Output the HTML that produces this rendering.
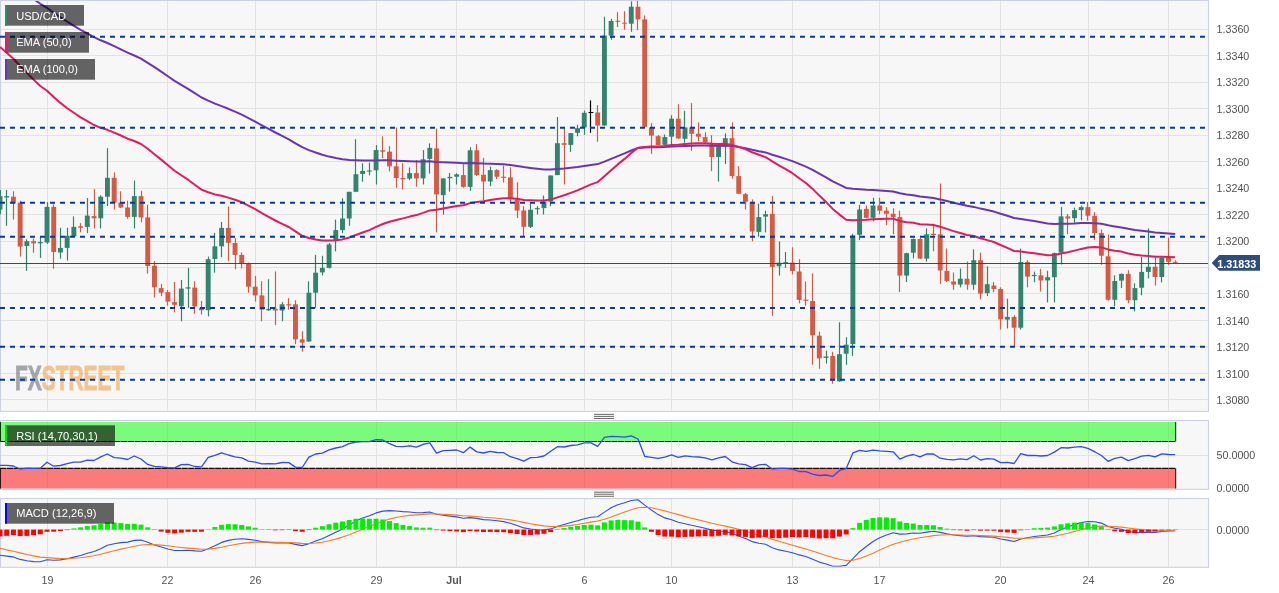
<!DOCTYPE html>
<html><head><meta charset="utf-8"><title>USD/CAD</title>
<style>
html,body{margin:0;padding:0;background:#fff;}
body{width:1279px;height:593px;overflow:hidden;font-family:"Liberation Sans",Arial,sans-serif;}
svg{display:block}
.ax{font-family:"Liberation Sans",Arial,sans-serif;font-size:10.7px;fill:#525252;}
.lb{font-family:"Liberation Sans",Arial,sans-serif;font-size:11.1px;fill:#fff;}
</style></head><body>
<svg width="1279" height="593" viewBox="0 0 1279 593">
<g opacity="0.999">

<rect x="0.5" y="0.5" width="1208.0" height="410.9" fill="#f7f7f7" stroke="#cbd1e5" stroke-width="1.1"/>
<rect x="0.5" y="420.5" width="1208.0" height="68.80000000000001" fill="#f7f7f7" stroke="#cbd1e5" stroke-width="1.1"/>
<rect x="0.5" y="498.5" width="1208.0" height="68.79999999999995" fill="#f7f7f7" stroke="#cbd1e5" stroke-width="1.1"/>
<defs><filter id="n" x="-5%" y="-20%" width="110%" height="140%"><feOffset dx="0" dy="0"/></filter>
<clipPath id="cp0"><rect x="0" y="1.0" width="1208.0" height="409.9"/></clipPath>
<clipPath id="cp1"><rect x="0" y="421.0" width="1208.0" height="67.80000000000001"/></clipPath>
<clipPath id="cp2"><rect x="0" y="499.0" width="1208.0" height="67.79999999999995"/></clipPath>
</defs>
<line x1="47.5" x2="47.5" y1="1.0" y2="410.9" stroke="#e2e2e2" stroke-width="1"/>
<line x1="167.5" x2="167.5" y1="1.0" y2="410.9" stroke="#e2e2e2" stroke-width="1"/>
<line x1="255.5" x2="255.5" y1="1.0" y2="410.9" stroke="#e2e2e2" stroke-width="1"/>
<line x1="376.5" x2="376.5" y1="1.0" y2="410.9" stroke="#e2e2e2" stroke-width="1"/>
<line x1="456.5" x2="456.5" y1="1.0" y2="410.9" stroke="#e2e2e2" stroke-width="1"/>
<line x1="584.5" x2="584.5" y1="1.0" y2="410.9" stroke="#e2e2e2" stroke-width="1"/>
<line x1="671.5" x2="671.5" y1="1.0" y2="410.9" stroke="#e2e2e2" stroke-width="1"/>
<line x1="792.5" x2="792.5" y1="1.0" y2="410.9" stroke="#e2e2e2" stroke-width="1"/>
<line x1="879.5" x2="879.5" y1="1.0" y2="410.9" stroke="#e2e2e2" stroke-width="1"/>
<line x1="1000.5" x2="1000.5" y1="1.0" y2="410.9" stroke="#e2e2e2" stroke-width="1"/>
<line x1="1088.5" x2="1088.5" y1="1.0" y2="410.9" stroke="#e2e2e2" stroke-width="1"/>
<line x1="1168.5" x2="1168.5" y1="1.0" y2="410.9" stroke="#e2e2e2" stroke-width="1"/>
<line x1="47.5" x2="47.5" y1="421.0" y2="488.8" stroke="#e2e2e2" stroke-width="1"/>
<line x1="167.5" x2="167.5" y1="421.0" y2="488.8" stroke="#e2e2e2" stroke-width="1"/>
<line x1="255.5" x2="255.5" y1="421.0" y2="488.8" stroke="#e2e2e2" stroke-width="1"/>
<line x1="376.5" x2="376.5" y1="421.0" y2="488.8" stroke="#e2e2e2" stroke-width="1"/>
<line x1="456.5" x2="456.5" y1="421.0" y2="488.8" stroke="#e2e2e2" stroke-width="1"/>
<line x1="584.5" x2="584.5" y1="421.0" y2="488.8" stroke="#e2e2e2" stroke-width="1"/>
<line x1="671.5" x2="671.5" y1="421.0" y2="488.8" stroke="#e2e2e2" stroke-width="1"/>
<line x1="792.5" x2="792.5" y1="421.0" y2="488.8" stroke="#e2e2e2" stroke-width="1"/>
<line x1="879.5" x2="879.5" y1="421.0" y2="488.8" stroke="#e2e2e2" stroke-width="1"/>
<line x1="1000.5" x2="1000.5" y1="421.0" y2="488.8" stroke="#e2e2e2" stroke-width="1"/>
<line x1="1088.5" x2="1088.5" y1="421.0" y2="488.8" stroke="#e2e2e2" stroke-width="1"/>
<line x1="1168.5" x2="1168.5" y1="421.0" y2="488.8" stroke="#e2e2e2" stroke-width="1"/>
<line x1="47.5" x2="47.5" y1="499.0" y2="566.8" stroke="#e2e2e2" stroke-width="1"/>
<line x1="167.5" x2="167.5" y1="499.0" y2="566.8" stroke="#e2e2e2" stroke-width="1"/>
<line x1="255.5" x2="255.5" y1="499.0" y2="566.8" stroke="#e2e2e2" stroke-width="1"/>
<line x1="376.5" x2="376.5" y1="499.0" y2="566.8" stroke="#e2e2e2" stroke-width="1"/>
<line x1="456.5" x2="456.5" y1="499.0" y2="566.8" stroke="#e2e2e2" stroke-width="1"/>
<line x1="584.5" x2="584.5" y1="499.0" y2="566.8" stroke="#e2e2e2" stroke-width="1"/>
<line x1="671.5" x2="671.5" y1="499.0" y2="566.8" stroke="#e2e2e2" stroke-width="1"/>
<line x1="792.5" x2="792.5" y1="499.0" y2="566.8" stroke="#e2e2e2" stroke-width="1"/>
<line x1="879.5" x2="879.5" y1="499.0" y2="566.8" stroke="#e2e2e2" stroke-width="1"/>
<line x1="1000.5" x2="1000.5" y1="499.0" y2="566.8" stroke="#e2e2e2" stroke-width="1"/>
<line x1="1088.5" x2="1088.5" y1="499.0" y2="566.8" stroke="#e2e2e2" stroke-width="1"/>
<line x1="1168.5" x2="1168.5" y1="499.0" y2="566.8" stroke="#e2e2e2" stroke-width="1"/>
<line x1="1" x2="1208.0" y1="29.5" y2="29.5" stroke="#e2e2e2" stroke-width="1"/>
<line x1="1" x2="1208.0" y1="55.5" y2="55.5" stroke="#e2e2e2" stroke-width="1"/>
<line x1="1" x2="1208.0" y1="82.5" y2="82.5" stroke="#e2e2e2" stroke-width="1"/>
<line x1="1" x2="1208.0" y1="108.5" y2="108.5" stroke="#e2e2e2" stroke-width="1"/>
<line x1="1" x2="1208.0" y1="135.5" y2="135.5" stroke="#e2e2e2" stroke-width="1"/>
<line x1="1" x2="1208.0" y1="161.5" y2="161.5" stroke="#e2e2e2" stroke-width="1"/>
<line x1="1" x2="1208.0" y1="188.5" y2="188.5" stroke="#e2e2e2" stroke-width="1"/>
<line x1="1" x2="1208.0" y1="214.5" y2="214.5" stroke="#e2e2e2" stroke-width="1"/>
<line x1="1" x2="1208.0" y1="241.5" y2="241.5" stroke="#e2e2e2" stroke-width="1"/>
<line x1="1" x2="1208.0" y1="267.5" y2="267.5" stroke="#e2e2e2" stroke-width="1"/>
<line x1="1" x2="1208.0" y1="293.5" y2="293.5" stroke="#e2e2e2" stroke-width="1"/>
<line x1="1" x2="1208.0" y1="320.5" y2="320.5" stroke="#e2e2e2" stroke-width="1"/>
<line x1="1" x2="1208.0" y1="346.5" y2="346.5" stroke="#e2e2e2" stroke-width="1"/>
<line x1="1" x2="1208.0" y1="373.5" y2="373.5" stroke="#e2e2e2" stroke-width="1"/>
<line x1="1" x2="1208.0" y1="399.5" y2="399.5" stroke="#e2e2e2" stroke-width="1"/>
<line x1="1" x2="1208.0" y1="455.5" y2="455.5" stroke="#e2e2e2" stroke-width="1"/>
<line x1="1" x2="1208.0" y1="529.5" y2="529.5" stroke="#e2e2e2" stroke-width="1"/>
<g clip-path="url(#cp0)">
<line x1="0.5" x2="0.5" y1="189.9" y2="214.2" stroke="#32846f" stroke-width="1.2"/>
<rect x="-2.45" y="196.1" width="4.9" height="13.50" fill="#32846f"/>
<line x1="6.5" x2="6.5" y1="189.9" y2="225.8" stroke="#32846f" stroke-width="1.2"/>
<rect x="4.27" y="196.1" width="4.9" height="1.40" fill="#32846f"/>
<line x1="13.5" x2="13.5" y1="191.3" y2="219.6" stroke="#d65944" stroke-width="1.2"/>
<rect x="10.98" y="196.7" width="4.9" height="6.70" fill="#d65944"/>
<line x1="20.5" x2="20.5" y1="200.7" y2="256.6" stroke="#d65944" stroke-width="1.2"/>
<rect x="17.70" y="202.6" width="4.9" height="44.00" fill="#d65944"/>
<line x1="26.5" x2="26.5" y1="239.3" y2="270.9" stroke="#32846f" stroke-width="1.2"/>
<rect x="24.41" y="241.2" width="4.9" height="4.80" fill="#32846f"/>
<line x1="33.5" x2="33.5" y1="238.5" y2="252.8" stroke="#d65944" stroke-width="1.2"/>
<rect x="31.13" y="241.2" width="4.9" height="2.10" fill="#d65944"/>
<line x1="40.5" x2="40.5" y1="237.1" y2="257.9" stroke="#32846f" stroke-width="1.2"/>
<rect x="37.84" y="242.0" width="4.9" height="1.30" fill="#32846f"/>
<line x1="47.5" x2="47.5" y1="202.1" y2="243.9" stroke="#32846f" stroke-width="1.2"/>
<rect x="44.56" y="206.9" width="4.9" height="35.60" fill="#32846f"/>
<line x1="53.5" x2="53.5" y1="204.2" y2="268.7" stroke="#d65944" stroke-width="1.2"/>
<rect x="51.27" y="206.9" width="4.9" height="45.10" fill="#d65944"/>
<line x1="60.5" x2="60.5" y1="227.7" y2="258.7" stroke="#32846f" stroke-width="1.2"/>
<rect x="57.99" y="247.9" width="4.9" height="4.60" fill="#32846f"/>
<line x1="67.5" x2="67.5" y1="227.7" y2="260.6" stroke="#32846f" stroke-width="1.2"/>
<rect x="64.71" y="235.8" width="4.9" height="12.10" fill="#32846f"/>
<line x1="73.5" x2="73.5" y1="216.4" y2="237.1" stroke="#32846f" stroke-width="1.2"/>
<rect x="71.42" y="226.9" width="4.9" height="9.40" fill="#32846f"/>
<line x1="80.5" x2="80.5" y1="223.1" y2="232.3" stroke="#d65944" stroke-width="1.2"/>
<rect x="78.14" y="226.3" width="4.9" height="1.40" fill="#d65944"/>
<line x1="87.5" x2="87.5" y1="198.0" y2="233.1" stroke="#32846f" stroke-width="1.2"/>
<rect x="84.85" y="215.6" width="4.9" height="11.30" fill="#32846f"/>
<line x1="94.5" x2="94.5" y1="189.1" y2="228.5" stroke="#d65944" stroke-width="1.2"/>
<rect x="91.57" y="216.1" width="4.9" height="2.20" fill="#d65944"/>
<line x1="100.5" x2="100.5" y1="195.3" y2="228.5" stroke="#32846f" stroke-width="1.2"/>
<rect x="98.28" y="196.7" width="4.9" height="21.60" fill="#32846f"/>
<line x1="107.5" x2="107.5" y1="148.1" y2="206.1" stroke="#32846f" stroke-width="1.2"/>
<rect x="105.00" y="177.8" width="4.9" height="18.90" fill="#32846f"/>
<line x1="114.5" x2="114.5" y1="172.4" y2="209.6" stroke="#d65944" stroke-width="1.2"/>
<rect x="111.72" y="177.8" width="4.9" height="24.80" fill="#d65944"/>
<line x1="120.5" x2="120.5" y1="191.3" y2="208.0" stroke="#d65944" stroke-width="1.2"/>
<rect x="118.43" y="202.6" width="4.9" height="4.90" fill="#d65944"/>
<line x1="127.5" x2="127.5" y1="200.7" y2="218.8" stroke="#d65944" stroke-width="1.2"/>
<rect x="125.15" y="207.5" width="4.9" height="9.40" fill="#d65944"/>
<line x1="134.5" x2="134.5" y1="180.5" y2="228.5" stroke="#32846f" stroke-width="1.2"/>
<rect x="131.86" y="196.1" width="4.9" height="20.80" fill="#32846f"/>
<line x1="141.5" x2="141.5" y1="190.7" y2="222.3" stroke="#d65944" stroke-width="1.2"/>
<rect x="138.58" y="196.1" width="4.9" height="21.30" fill="#d65944"/>
<line x1="147.5" x2="147.5" y1="204.8" y2="273.6" stroke="#d65944" stroke-width="1.2"/>
<rect x="145.29" y="217.4" width="4.9" height="48.60" fill="#d65944"/>
<line x1="154.5" x2="154.5" y1="261.1" y2="297.5" stroke="#d65944" stroke-width="1.2"/>
<rect x="152.01" y="265.7" width="4.9" height="21.60" fill="#d65944"/>
<line x1="161.5" x2="161.5" y1="284.0" y2="296.2" stroke="#d65944" stroke-width="1.2"/>
<rect x="158.72" y="288.1" width="4.9" height="4.60" fill="#d65944"/>
<line x1="167.5" x2="167.5" y1="290.0" y2="305.6" stroke="#d65944" stroke-width="1.2"/>
<rect x="165.44" y="292.1" width="4.9" height="9.50" fill="#d65944"/>
<line x1="174.5" x2="174.5" y1="281.9" y2="312.4" stroke="#d65944" stroke-width="1.2"/>
<rect x="172.16" y="302.1" width="4.9" height="2.70" fill="#d65944"/>
<line x1="181.5" x2="181.5" y1="280.0" y2="321.3" stroke="#32846f" stroke-width="1.2"/>
<rect x="178.87" y="288.6" width="4.9" height="17.60" fill="#32846f"/>
<line x1="188.5" x2="188.5" y1="267.9" y2="307.8" stroke="#32846f" stroke-width="1.2"/>
<rect x="185.59" y="287.3" width="4.9" height="1.30" fill="#32846f"/>
<line x1="194.5" x2="194.5" y1="281.3" y2="313.7" stroke="#d65944" stroke-width="1.2"/>
<rect x="192.30" y="287.6" width="4.9" height="18.80" fill="#d65944"/>
<line x1="201.5" x2="201.5" y1="301.0" y2="314.5" stroke="#d65944" stroke-width="1.2"/>
<rect x="199.02" y="307.8" width="4.9" height="2.40" fill="#d65944"/>
<line x1="208.5" x2="208.5" y1="256.5" y2="316.4" stroke="#32846f" stroke-width="1.2"/>
<rect x="205.73" y="259.2" width="4.9" height="51.00" fill="#32846f"/>
<line x1="214.5" x2="214.5" y1="232.8" y2="272.7" stroke="#32846f" stroke-width="1.2"/>
<rect x="212.45" y="246.3" width="4.9" height="12.70" fill="#32846f"/>
<line x1="221.5" x2="221.5" y1="222.0" y2="257.1" stroke="#32846f" stroke-width="1.2"/>
<rect x="219.16" y="227.9" width="4.9" height="18.40" fill="#32846f"/>
<line x1="228.5" x2="228.5" y1="206.3" y2="261.1" stroke="#d65944" stroke-width="1.2"/>
<rect x="225.88" y="227.9" width="4.9" height="14.90" fill="#d65944"/>
<line x1="235.5" x2="235.5" y1="238.2" y2="269.2" stroke="#d65944" stroke-width="1.2"/>
<rect x="232.60" y="243.0" width="4.9" height="11.90" fill="#d65944"/>
<line x1="241.5" x2="241.5" y1="252.5" y2="268.4" stroke="#d65944" stroke-width="1.2"/>
<rect x="239.31" y="254.9" width="4.9" height="8.10" fill="#d65944"/>
<line x1="248.5" x2="248.5" y1="262.5" y2="292.7" stroke="#d65944" stroke-width="1.2"/>
<rect x="246.03" y="263.3" width="4.9" height="23.40" fill="#d65944"/>
<line x1="255.5" x2="255.5" y1="275.9" y2="301.6" stroke="#d65944" stroke-width="1.2"/>
<rect x="252.74" y="286.7" width="4.9" height="8.70" fill="#d65944"/>
<line x1="261.5" x2="261.5" y1="281.3" y2="321.3" stroke="#d65944" stroke-width="1.2"/>
<rect x="259.46" y="295.4" width="4.9" height="14.30" fill="#d65944"/>
<line x1="268.5" x2="268.5" y1="279.2" y2="311.0" stroke="#32846f" stroke-width="1.2"/>
<rect x="266.17" y="308.9" width="4.9" height="1.30" fill="#32846f"/>
<line x1="275.5" x2="275.5" y1="271.4" y2="325.1" stroke="#d65944" stroke-width="1.2"/>
<rect x="272.89" y="308.9" width="4.9" height="1.60" fill="#d65944"/>
<line x1="282.5" x2="282.5" y1="302.1" y2="321.3" stroke="#32846f" stroke-width="1.2"/>
<rect x="279.61" y="304.3" width="4.9" height="6.20" fill="#32846f"/>
<line x1="288.5" x2="288.5" y1="298.1" y2="309.7" stroke="#d65944" stroke-width="1.2"/>
<rect x="286.32" y="304.3" width="4.9" height="1.10" fill="#d65944"/>
<line x1="295.5" x2="295.5" y1="300.2" y2="344.2" stroke="#d65944" stroke-width="1.2"/>
<rect x="293.04" y="304.3" width="4.9" height="35.10" fill="#d65944"/>
<line x1="302.5" x2="302.5" y1="331.3" y2="351.5" stroke="#d65944" stroke-width="1.2"/>
<rect x="299.75" y="339.4" width="4.9" height="3.20" fill="#d65944"/>
<line x1="308.5" x2="308.5" y1="281.3" y2="342.1" stroke="#32846f" stroke-width="1.2"/>
<rect x="306.47" y="292.7" width="4.9" height="48.80" fill="#32846f"/>
<line x1="315.5" x2="315.5" y1="254.9" y2="307.8" stroke="#32846f" stroke-width="1.2"/>
<rect x="313.18" y="272.7" width="4.9" height="20.00" fill="#32846f"/>
<line x1="322.5" x2="322.5" y1="255.7" y2="275.4" stroke="#32846f" stroke-width="1.2"/>
<rect x="319.90" y="267.9" width="4.9" height="4.50" fill="#32846f"/>
<line x1="329.5" x2="329.5" y1="243.0" y2="268.4" stroke="#32846f" stroke-width="1.2"/>
<rect x="326.61" y="244.4" width="4.9" height="23.50" fill="#32846f"/>
<line x1="335.5" x2="335.5" y1="219.6" y2="251.4" stroke="#32846f" stroke-width="1.2"/>
<rect x="333.33" y="230.1" width="4.9" height="10.30" fill="#32846f"/>
<line x1="342.5" x2="342.5" y1="198.3" y2="233.2" stroke="#32846f" stroke-width="1.2"/>
<rect x="340.05" y="218.5" width="4.9" height="11.60" fill="#32846f"/>
<line x1="349.5" x2="349.5" y1="191.8" y2="225.8" stroke="#32846f" stroke-width="1.2"/>
<rect x="346.76" y="191.8" width="4.9" height="26.70" fill="#32846f"/>
<line x1="355.5" x2="355.5" y1="139.2" y2="192.2" stroke="#32846f" stroke-width="1.2"/>
<rect x="353.48" y="174.2" width="4.9" height="17.60" fill="#32846f"/>
<line x1="362.5" x2="362.5" y1="163.3" y2="181.7" stroke="#32846f" stroke-width="1.2"/>
<rect x="360.19" y="170.9" width="4.9" height="3.10" fill="#32846f"/>
<line x1="369.5" x2="369.5" y1="162.6" y2="175.3" stroke="#32846f" stroke-width="1.2"/>
<rect x="366.91" y="170.5" width="4.9" height="1.10" fill="#32846f"/>
<line x1="376.5" x2="376.5" y1="145.1" y2="184.5" stroke="#32846f" stroke-width="1.2"/>
<rect x="373.62" y="150.1" width="4.9" height="20.20" fill="#32846f"/>
<line x1="382.5" x2="382.5" y1="136.3" y2="158.2" stroke="#d65944" stroke-width="1.2"/>
<rect x="380.34" y="150.3" width="4.9" height="1.40" fill="#d65944"/>
<line x1="389.5" x2="389.5" y1="146.2" y2="171.4" stroke="#d65944" stroke-width="1.2"/>
<rect x="387.05" y="151.7" width="4.9" height="14.60" fill="#d65944"/>
<line x1="396.5" x2="396.5" y1="127.5" y2="187.8" stroke="#d65944" stroke-width="1.2"/>
<rect x="393.77" y="166.3" width="4.9" height="11.70" fill="#d65944"/>
<line x1="402.5" x2="402.5" y1="163.3" y2="189.4" stroke="#d65944" stroke-width="1.2"/>
<rect x="400.49" y="178.0" width="4.9" height="1.30" fill="#d65944"/>
<line x1="409.5" x2="409.5" y1="167.4" y2="180.2" stroke="#32846f" stroke-width="1.2"/>
<rect x="407.20" y="173.1" width="4.9" height="5.50" fill="#32846f"/>
<line x1="416.5" x2="416.5" y1="160.0" y2="186.7" stroke="#d65944" stroke-width="1.2"/>
<rect x="413.92" y="173.1" width="4.9" height="5.30" fill="#d65944"/>
<line x1="423.5" x2="423.5" y1="150.1" y2="184.5" stroke="#32846f" stroke-width="1.2"/>
<rect x="420.63" y="159.3" width="4.9" height="19.10" fill="#32846f"/>
<line x1="429.5" x2="429.5" y1="143.3" y2="173.6" stroke="#32846f" stroke-width="1.2"/>
<rect x="427.35" y="147.9" width="4.9" height="11.00" fill="#32846f"/>
<line x1="436.5" x2="436.5" y1="128.6" y2="232.3" stroke="#d65944" stroke-width="1.2"/>
<rect x="434.06" y="148.4" width="4.9" height="46.00" fill="#d65944"/>
<line x1="443.5" x2="443.5" y1="178.4" y2="214.6" stroke="#32846f" stroke-width="1.2"/>
<rect x="440.78" y="178.4" width="4.9" height="16.70" fill="#32846f"/>
<line x1="449.5" x2="449.5" y1="173.1" y2="191.6" stroke="#32846f" stroke-width="1.2"/>
<rect x="447.50" y="176.9" width="4.9" height="1.30" fill="#32846f"/>
<line x1="456.5" x2="456.5" y1="173.2" y2="184.5" stroke="#32846f" stroke-width="1.2"/>
<rect x="454.21" y="174.4" width="4.9" height="2.30" fill="#32846f"/>
<line x1="463.5" x2="463.5" y1="164.2" y2="187.8" stroke="#d65944" stroke-width="1.2"/>
<rect x="460.93" y="175.1" width="4.9" height="11.80" fill="#d65944"/>
<line x1="470.5" x2="470.5" y1="147.2" y2="190.9" stroke="#32846f" stroke-width="1.2"/>
<rect x="467.64" y="150.3" width="4.9" height="36.60" fill="#32846f"/>
<line x1="476.5" x2="476.5" y1="144.1" y2="176.0" stroke="#d65944" stroke-width="1.2"/>
<rect x="474.36" y="150.3" width="4.9" height="24.80" fill="#d65944"/>
<line x1="483.5" x2="483.5" y1="157.8" y2="200.3" stroke="#d65944" stroke-width="1.2"/>
<rect x="481.07" y="174.8" width="4.9" height="6.70" fill="#d65944"/>
<line x1="490.5" x2="490.5" y1="166.6" y2="186.2" stroke="#32846f" stroke-width="1.2"/>
<rect x="487.79" y="170.1" width="4.9" height="11.40" fill="#32846f"/>
<line x1="496.5" x2="496.5" y1="169.2" y2="179.1" stroke="#d65944" stroke-width="1.2"/>
<rect x="494.50" y="170.1" width="4.9" height="6.60" fill="#d65944"/>
<line x1="503.5" x2="503.5" y1="165.6" y2="182.6" stroke="#d65944" stroke-width="1.2"/>
<rect x="501.22" y="176.7" width="4.9" height="1.20" fill="#d65944"/>
<line x1="510.5" x2="510.5" y1="167.3" y2="202.7" stroke="#d65944" stroke-width="1.2"/>
<rect x="507.94" y="177.4" width="4.9" height="21.80" fill="#d65944"/>
<line x1="517.5" x2="517.5" y1="182.2" y2="218.0" stroke="#d65944" stroke-width="1.2"/>
<rect x="514.65" y="199.2" width="4.9" height="11.30" fill="#d65944"/>
<line x1="523.5" x2="523.5" y1="206.2" y2="236.5" stroke="#d65944" stroke-width="1.2"/>
<rect x="521.37" y="210.5" width="4.9" height="16.30" fill="#d65944"/>
<line x1="530.5" x2="530.5" y1="203.9" y2="228.0" stroke="#32846f" stroke-width="1.2"/>
<rect x="528.08" y="209.8" width="4.9" height="17.00" fill="#32846f"/>
<line x1="537.5" x2="537.5" y1="206.2" y2="214.5" stroke="#32846f" stroke-width="1.2"/>
<rect x="534.80" y="208.1" width="4.9" height="1.20" fill="#32846f"/>
<line x1="543.5" x2="543.5" y1="195.6" y2="214.5" stroke="#32846f" stroke-width="1.2"/>
<rect x="541.51" y="201.5" width="4.9" height="6.60" fill="#32846f"/>
<line x1="550.5" x2="550.5" y1="175.5" y2="206.2" stroke="#32846f" stroke-width="1.2"/>
<rect x="548.23" y="175.5" width="4.9" height="26.00" fill="#32846f"/>
<line x1="557.5" x2="557.5" y1="117.0" y2="175.1" stroke="#32846f" stroke-width="1.2"/>
<rect x="554.94" y="143.2" width="4.9" height="31.90" fill="#32846f"/>
<line x1="564.5" x2="564.5" y1="127.9" y2="184.5" stroke="#d65944" stroke-width="1.2"/>
<rect x="561.66" y="143.2" width="4.9" height="1.70" fill="#d65944"/>
<line x1="570.5" x2="570.5" y1="133.1" y2="151.9" stroke="#32846f" stroke-width="1.2"/>
<rect x="568.38" y="133.1" width="4.9" height="11.80" fill="#32846f"/>
<line x1="577.5" x2="577.5" y1="124.7" y2="136.3" stroke="#32846f" stroke-width="1.2"/>
<rect x="575.09" y="128.2" width="4.9" height="4.60" fill="#32846f"/>
<line x1="584.5" x2="584.5" y1="110.6" y2="134.9" stroke="#32846f" stroke-width="1.2"/>
<rect x="581.81" y="112.8" width="4.9" height="14.60" fill="#32846f"/>
<line x1="590.5" x2="590.5" y1="100.4" y2="132.8" stroke="#000" stroke-width="1.2"/>
<rect x="588.52" y="112.05" width="4.9" height="1.00" fill="#000"/>
<line x1="597.5" x2="597.5" y1="105.2" y2="141.7" stroke="#d65944" stroke-width="1.2"/>
<rect x="595.24" y="112.5" width="4.9" height="13.00" fill="#d65944"/>
<line x1="604.5" x2="604.5" y1="16.7" y2="125.5" stroke="#32846f" stroke-width="1.2"/>
<rect x="601.95" y="35.6" width="4.9" height="89.90" fill="#32846f"/>
<line x1="611.5" x2="611.5" y1="18.9" y2="39.7" stroke="#32846f" stroke-width="1.2"/>
<rect x="608.67" y="21.0" width="4.9" height="14.60" fill="#32846f"/>
<line x1="617.5" x2="617.5" y1="12.1" y2="27.0" stroke="#d65944" stroke-width="1.2"/>
<rect x="615.39" y="20.8" width="4.9" height="1.10" fill="#d65944"/>
<line x1="624.5" x2="624.5" y1="11.3" y2="29.7" stroke="#d65944" stroke-width="1.2"/>
<rect x="622.10" y="22.7" width="4.9" height="1.00" fill="#d65944"/>
<line x1="631.5" x2="631.5" y1="1.3" y2="31.8" stroke="#32846f" stroke-width="1.2"/>
<rect x="628.82" y="6.7" width="4.9" height="17.00" fill="#32846f"/>
<line x1="637.5" x2="637.5" y1="0.0" y2="30.2" stroke="#d65944" stroke-width="1.2"/>
<rect x="635.53" y="6.7" width="4.9" height="12.70" fill="#d65944"/>
<line x1="644.5" x2="644.5" y1="15.4" y2="126.8" stroke="#d65944" stroke-width="1.2"/>
<rect x="642.25" y="19.4" width="4.9" height="107.40" fill="#d65944"/>
<line x1="651.5" x2="651.5" y1="123.1" y2="153.8" stroke="#d65944" stroke-width="1.2"/>
<rect x="648.96" y="127.4" width="4.9" height="8.20" fill="#d65944"/>
<line x1="658.5" x2="658.5" y1="135.1" y2="145.4" stroke="#d65944" stroke-width="1.2"/>
<rect x="655.68" y="136.2" width="4.9" height="8.80" fill="#d65944"/>
<line x1="664.5" x2="664.5" y1="134.5" y2="145.4" stroke="#32846f" stroke-width="1.2"/>
<rect x="662.39" y="137.1" width="4.9" height="7.70" fill="#32846f"/>
<line x1="671.5" x2="671.5" y1="115.2" y2="144.3" stroke="#32846f" stroke-width="1.2"/>
<rect x="669.11" y="118.7" width="4.9" height="18.00" fill="#32846f"/>
<line x1="678.5" x2="678.5" y1="104.2" y2="138.8" stroke="#d65944" stroke-width="1.2"/>
<rect x="675.83" y="118.7" width="4.9" height="19.70" fill="#d65944"/>
<line x1="684.5" x2="684.5" y1="110.8" y2="142.8" stroke="#32846f" stroke-width="1.2"/>
<rect x="682.54" y="127.4" width="4.9" height="11.40" fill="#32846f"/>
<line x1="691.5" x2="691.5" y1="103.1" y2="150.9" stroke="#d65944" stroke-width="1.2"/>
<rect x="689.26" y="127.4" width="4.9" height="6.40" fill="#d65944"/>
<line x1="698.5" x2="698.5" y1="122.4" y2="141.0" stroke="#d65944" stroke-width="1.2"/>
<rect x="695.97" y="133.8" width="4.9" height="2.90" fill="#d65944"/>
<line x1="705.5" x2="705.5" y1="132.3" y2="142.8" stroke="#d65944" stroke-width="1.2"/>
<rect x="702.69" y="137.1" width="4.9" height="5.00" fill="#d65944"/>
<line x1="711.5" x2="711.5" y1="135.1" y2="171.1" stroke="#d65944" stroke-width="1.2"/>
<rect x="709.40" y="142.8" width="4.9" height="14.20" fill="#d65944"/>
<line x1="718.5" x2="718.5" y1="145.4" y2="181.6" stroke="#32846f" stroke-width="1.2"/>
<rect x="716.12" y="146.1" width="4.9" height="10.90" fill="#32846f"/>
<line x1="725.5" x2="725.5" y1="133.4" y2="164.1" stroke="#32846f" stroke-width="1.2"/>
<rect x="722.83" y="138.2" width="4.9" height="8.30" fill="#32846f"/>
<line x1="732.5" x2="732.5" y1="122.4" y2="178.7" stroke="#d65944" stroke-width="1.2"/>
<rect x="729.55" y="138.2" width="4.9" height="37.90" fill="#d65944"/>
<line x1="738.5" x2="738.5" y1="166.2" y2="194.1" stroke="#d65944" stroke-width="1.2"/>
<rect x="736.27" y="176.1" width="4.9" height="17.60" fill="#d65944"/>
<line x1="745.5" x2="745.5" y1="193.0" y2="209.5" stroke="#d65944" stroke-width="1.2"/>
<rect x="742.98" y="194.2" width="4.9" height="7.50" fill="#d65944"/>
<line x1="752.5" x2="752.5" y1="199.4" y2="241.4" stroke="#d65944" stroke-width="1.2"/>
<rect x="749.70" y="202.4" width="4.9" height="29.10" fill="#d65944"/>
<line x1="758.5" x2="758.5" y1="203.6" y2="236.7" stroke="#32846f" stroke-width="1.2"/>
<rect x="756.41" y="217.1" width="4.9" height="14.80" fill="#32846f"/>
<line x1="765.5" x2="765.5" y1="210.7" y2="232.4" stroke="#32846f" stroke-width="1.2"/>
<rect x="763.13" y="214.2" width="4.9" height="2.40" fill="#32846f"/>
<line x1="772.5" x2="772.5" y1="196.1" y2="315.8" stroke="#d65944" stroke-width="1.2"/>
<rect x="769.84" y="213.8" width="4.9" height="53.10" fill="#d65944"/>
<line x1="779.5" x2="779.5" y1="241.4" y2="275.6" stroke="#32846f" stroke-width="1.2"/>
<rect x="776.56" y="262.6" width="4.9" height="3.60" fill="#32846f"/>
<line x1="785.5" x2="785.5" y1="252.0" y2="267.8" stroke="#32846f" stroke-width="1.2"/>
<rect x="783.28" y="262.15" width="4.9" height="1.00" fill="#32846f"/>
<line x1="792.5" x2="792.5" y1="247.3" y2="274.4" stroke="#d65944" stroke-width="1.2"/>
<rect x="789.99" y="262.6" width="4.9" height="8.30" fill="#d65944"/>
<line x1="799.5" x2="799.5" y1="259.2" y2="303.4" stroke="#d65944" stroke-width="1.2"/>
<rect x="796.71" y="271.5" width="4.9" height="28.40" fill="#d65944"/>
<line x1="805.5" x2="805.5" y1="281.4" y2="305.8" stroke="#d65944" stroke-width="1.2"/>
<rect x="803.42" y="299.6" width="4.9" height="1.20" fill="#d65944"/>
<line x1="812.5" x2="812.5" y1="273.4" y2="364.8" stroke="#d65944" stroke-width="1.2"/>
<rect x="810.14" y="301.0" width="4.9" height="34.30" fill="#d65944"/>
<line x1="819.5" x2="819.5" y1="331.7" y2="368.8" stroke="#d65944" stroke-width="1.2"/>
<rect x="816.85" y="335.7" width="4.9" height="22.70" fill="#d65944"/>
<line x1="826.5" x2="826.5" y1="350.6" y2="363.6" stroke="#32846f" stroke-width="1.2"/>
<rect x="823.57" y="356.5" width="4.9" height="1.40" fill="#32846f"/>
<line x1="832.5" x2="832.5" y1="351.8" y2="383.7" stroke="#d65944" stroke-width="1.2"/>
<rect x="830.28" y="356.0" width="4.9" height="24.80" fill="#d65944"/>
<line x1="839.5" x2="839.5" y1="322.3" y2="381.8" stroke="#32846f" stroke-width="1.2"/>
<rect x="837.00" y="354.2" width="4.9" height="27.10" fill="#32846f"/>
<line x1="846.5" x2="846.5" y1="337.2" y2="364.8" stroke="#32846f" stroke-width="1.2"/>
<rect x="843.72" y="344.7" width="4.9" height="9.00" fill="#32846f"/>
<line x1="852.5" x2="852.5" y1="233.8" y2="355.9" stroke="#32846f" stroke-width="1.2"/>
<rect x="850.43" y="235.5" width="4.9" height="108.60" fill="#32846f"/>
<line x1="859.5" x2="859.5" y1="204.8" y2="240.2" stroke="#32846f" stroke-width="1.2"/>
<rect x="857.15" y="209.5" width="4.9" height="25.30" fill="#32846f"/>
<line x1="866.5" x2="866.5" y1="205.5" y2="218.2" stroke="#d65944" stroke-width="1.2"/>
<rect x="863.86" y="208.8" width="4.9" height="9.00" fill="#d65944"/>
<line x1="873.5" x2="873.5" y1="197.7" y2="221.3" stroke="#32846f" stroke-width="1.2"/>
<rect x="870.58" y="205.5" width="4.9" height="12.30" fill="#32846f"/>
<line x1="879.5" x2="879.5" y1="197.7" y2="214.2" stroke="#d65944" stroke-width="1.2"/>
<rect x="877.29" y="205.5" width="4.9" height="5.20" fill="#d65944"/>
<line x1="886.5" x2="886.5" y1="207.2" y2="225.3" stroke="#d65944" stroke-width="1.2"/>
<rect x="884.01" y="210.7" width="4.9" height="3.10" fill="#d65944"/>
<line x1="893.5" x2="893.5" y1="208.3" y2="234.3" stroke="#d65944" stroke-width="1.2"/>
<rect x="890.72" y="213.8" width="4.9" height="3.30" fill="#d65944"/>
<line x1="899.5" x2="899.5" y1="210.7" y2="292.1" stroke="#d65944" stroke-width="1.2"/>
<rect x="897.44" y="217.1" width="4.9" height="58.50" fill="#d65944"/>
<line x1="906.5" x2="906.5" y1="252.7" y2="282.0" stroke="#32846f" stroke-width="1.2"/>
<rect x="904.16" y="253.2" width="4.9" height="22.40" fill="#32846f"/>
<line x1="913.5" x2="913.5" y1="238.5" y2="258.4" stroke="#32846f" stroke-width="1.2"/>
<rect x="910.87" y="239.0" width="4.9" height="13.70" fill="#32846f"/>
<line x1="920.5" x2="920.5" y1="237.8" y2="259.1" stroke="#d65944" stroke-width="1.2"/>
<rect x="917.59" y="239.0" width="4.9" height="19.60" fill="#d65944"/>
<line x1="926.5" x2="926.5" y1="228.4" y2="261.5" stroke="#32846f" stroke-width="1.2"/>
<rect x="924.30" y="234.3" width="4.9" height="24.30" fill="#32846f"/>
<line x1="933.5" x2="933.5" y1="223.7" y2="251.3" stroke="#d65944" stroke-width="1.2"/>
<rect x="931.02" y="233.8" width="4.9" height="1.20" fill="#d65944"/>
<line x1="940.5" x2="940.5" y1="183.5" y2="283.9" stroke="#d65944" stroke-width="1.2"/>
<rect x="937.73" y="234.3" width="4.9" height="36.10" fill="#d65944"/>
<line x1="946.5" x2="946.5" y1="248.5" y2="282.0" stroke="#d65944" stroke-width="1.2"/>
<rect x="944.45" y="270.9" width="4.9" height="10.10" fill="#d65944"/>
<line x1="953.5" x2="953.5" y1="272.5" y2="289.8" stroke="#d65944" stroke-width="1.2"/>
<rect x="951.17" y="281.5" width="4.9" height="3.10" fill="#d65944"/>
<line x1="960.5" x2="960.5" y1="268.5" y2="287.4" stroke="#32846f" stroke-width="1.2"/>
<rect x="957.88" y="278.7" width="4.9" height="5.90" fill="#32846f"/>
<line x1="967.5" x2="967.5" y1="261.5" y2="289.8" stroke="#d65944" stroke-width="1.2"/>
<rect x="964.60" y="278.7" width="4.9" height="5.90" fill="#d65944"/>
<line x1="973.5" x2="973.5" y1="249.3" y2="289.8" stroke="#32846f" stroke-width="1.2"/>
<rect x="971.31" y="260.2" width="4.9" height="24.50" fill="#32846f"/>
<line x1="980.5" x2="980.5" y1="252.6" y2="299.4" stroke="#d65944" stroke-width="1.2"/>
<rect x="978.03" y="260.2" width="4.9" height="33.40" fill="#d65944"/>
<line x1="987.5" x2="987.5" y1="266.3" y2="296.1" stroke="#32846f" stroke-width="1.2"/>
<rect x="984.74" y="284.2" width="4.9" height="8.90" fill="#32846f"/>
<line x1="993.5" x2="993.5" y1="282.2" y2="292.3" stroke="#d65944" stroke-width="1.2"/>
<rect x="991.46" y="285.5" width="4.9" height="3.50" fill="#d65944"/>
<line x1="1000.5" x2="1000.5" y1="287.3" y2="329.5" stroke="#d65944" stroke-width="1.2"/>
<rect x="998.17" y="289.0" width="4.9" height="30.40" fill="#d65944"/>
<line x1="1007.5" x2="1007.5" y1="298.7" y2="328.5" stroke="#32846f" stroke-width="1.2"/>
<rect x="1004.89" y="316.9" width="4.9" height="2.70" fill="#32846f"/>
<line x1="1014.5" x2="1014.5" y1="315.1" y2="346.2" stroke="#d65944" stroke-width="1.2"/>
<rect x="1011.61" y="316.9" width="4.9" height="10.80" fill="#d65944"/>
<line x1="1020.5" x2="1020.5" y1="248.6" y2="329.5" stroke="#32846f" stroke-width="1.2"/>
<rect x="1018.32" y="262.0" width="4.9" height="65.70" fill="#32846f"/>
<line x1="1027.5" x2="1027.5" y1="260.2" y2="287.3" stroke="#d65944" stroke-width="1.2"/>
<rect x="1025.04" y="262.0" width="4.9" height="14.60" fill="#d65944"/>
<line x1="1034.5" x2="1034.5" y1="271.6" y2="282.2" stroke="#32846f" stroke-width="1.2"/>
<rect x="1031.75" y="274.9" width="4.9" height="1.20" fill="#32846f"/>
<line x1="1040.5" x2="1040.5" y1="268.8" y2="291.6" stroke="#d65944" stroke-width="1.2"/>
<rect x="1038.47" y="275.4" width="4.9" height="5.00" fill="#d65944"/>
<line x1="1047.5" x2="1047.5" y1="270.8" y2="302.4" stroke="#32846f" stroke-width="1.2"/>
<rect x="1045.18" y="277.2" width="4.9" height="3.20" fill="#32846f"/>
<line x1="1054.5" x2="1054.5" y1="252.6" y2="302.4" stroke="#32846f" stroke-width="1.2"/>
<rect x="1051.90" y="253.1" width="4.9" height="24.10" fill="#32846f"/>
<line x1="1061.5" x2="1061.5" y1="206.8" y2="264.5" stroke="#32846f" stroke-width="1.2"/>
<rect x="1058.61" y="216.4" width="4.9" height="36.20" fill="#32846f"/>
<line x1="1067.5" x2="1067.5" y1="213.9" y2="234.1" stroke="#d65944" stroke-width="1.2"/>
<rect x="1065.33" y="216.4" width="4.9" height="2.10" fill="#d65944"/>
<line x1="1074.5" x2="1074.5" y1="207.6" y2="222.8" stroke="#32846f" stroke-width="1.2"/>
<rect x="1072.05" y="210.1" width="4.9" height="8.10" fill="#32846f"/>
<line x1="1081.5" x2="1081.5" y1="205.6" y2="220.2" stroke="#32846f" stroke-width="1.2"/>
<rect x="1078.76" y="207.1" width="4.9" height="3.00" fill="#32846f"/>
<line x1="1087.5" x2="1087.5" y1="202.0" y2="220.7" stroke="#d65944" stroke-width="1.2"/>
<rect x="1085.48" y="207.1" width="4.9" height="8.60" fill="#d65944"/>
<line x1="1094.5" x2="1094.5" y1="212.2" y2="239.9" stroke="#d65944" stroke-width="1.2"/>
<rect x="1092.19" y="215.8" width="4.9" height="17.20" fill="#d65944"/>
<line x1="1101.5" x2="1101.5" y1="229.4" y2="264.8" stroke="#d65944" stroke-width="1.2"/>
<rect x="1098.91" y="233.0" width="4.9" height="22.70" fill="#d65944"/>
<line x1="1108.5" x2="1108.5" y1="234.5" y2="300.6" stroke="#d65944" stroke-width="1.2"/>
<rect x="1105.62" y="256.3" width="4.9" height="43.50" fill="#d65944"/>
<line x1="1114.5" x2="1114.5" y1="275.3" y2="306.3" stroke="#32846f" stroke-width="1.2"/>
<rect x="1112.34" y="281.0" width="4.9" height="18.80" fill="#32846f"/>
<line x1="1121.5" x2="1121.5" y1="273.5" y2="288.1" stroke="#32846f" stroke-width="1.2"/>
<rect x="1119.06" y="273.9" width="4.9" height="6.70" fill="#32846f"/>
<line x1="1128.5" x2="1128.5" y1="270.3" y2="303.3" stroke="#d65944" stroke-width="1.2"/>
<rect x="1125.77" y="273.9" width="4.9" height="26.30" fill="#d65944"/>
<line x1="1134.5" x2="1134.5" y1="283.4" y2="311.4" stroke="#32846f" stroke-width="1.2"/>
<rect x="1132.49" y="288.1" width="4.9" height="12.10" fill="#32846f"/>
<line x1="1141.5" x2="1141.5" y1="256.7" y2="295.2" stroke="#32846f" stroke-width="1.2"/>
<rect x="1139.20" y="271.9" width="4.9" height="15.80" fill="#32846f"/>
<line x1="1148.5" x2="1148.5" y1="228.4" y2="278.4" stroke="#32846f" stroke-width="1.2"/>
<rect x="1145.92" y="266.8" width="4.9" height="5.10" fill="#32846f"/>
<line x1="1155.5" x2="1155.5" y1="255.7" y2="285.5" stroke="#d65944" stroke-width="1.2"/>
<rect x="1152.63" y="266.8" width="4.9" height="10.20" fill="#d65944"/>
<line x1="1161.5" x2="1161.5" y1="257.7" y2="282.4" stroke="#32846f" stroke-width="1.2"/>
<rect x="1159.35" y="257.7" width="4.9" height="19.30" fill="#32846f"/>
<line x1="1168.5" x2="1168.5" y1="237.5" y2="264.8" stroke="#d65944" stroke-width="1.2"/>
<rect x="1166.06" y="257.7" width="4.9" height="4.10" fill="#d65944"/>
<line x1="1175.5" x2="1175.5" y1="260.2" y2="263.2" stroke="#d65944" stroke-width="1.2"/>
<rect x="1172.78" y="261.8" width="4.9" height="1.00" fill="#d65944"/>
<g opacity="0.62" filter="url(#n)"><text x="14.9" y="390.2" font-family="Liberation Sans,Arial,sans-serif" font-weight="bold" font-size="35.6" stroke-width="1.1" stroke-linejoin="miter" transform="translate(14.9 0) scale(0.589 1) translate(-14.9 0)"><tspan fill="#73757f" stroke="#73757f">FX</tspan><tspan fill="#efa851" stroke="#efa851">STREET</tspan></text></g>
<line x1="0" x2="1208.5" y1="263.5" y2="263.5" stroke="#2d4a78" stroke-width="1.15"/>
<path d="M0.0,-24.9 L6.7,-20.5 L13.4,-16.1 L20.1,-10.9 L26.9,-5.9 L33.6,-1.0 L40.3,3.8 L47.0,7.9 L53.7,12.7 L60.4,17.4 L67.2,21.7 L73.9,25.8 L80.6,29.8 L87.3,33.4 L94.0,37.1 L100.7,40.3 L107.4,43.0 L114.2,46.1 L120.9,49.3 L127.6,52.6 L134.3,55.5 L141.0,58.7 L147.7,62.8 L154.5,67.2 L161.2,71.7 L167.9,76.3 L174.6,80.8 L181.3,84.9 L188.0,88.9 L194.8,93.2 L201.5,97.5 L208.2,100.7 L214.9,103.6 L221.6,106.1 L228.3,108.8 L235.0,111.7 L241.8,114.7 L248.5,118.1 L255.2,121.6 L261.9,125.3 L268.6,128.9 L275.3,132.5 L282.1,135.9 L288.8,139.3 L295.5,143.3 L302.2,147.2 L308.9,150.1 L315.6,152.5 L322.3,154.8 L329.1,156.6 L335.8,158.0 L342.5,159.2 L349.2,159.9 L355.9,160.2 L362.6,160.4 L369.4,160.6 L376.1,160.4 L382.8,160.2 L389.5,160.3 L396.2,160.7 L402.9,161.0 L409.7,161.3 L416.4,161.6 L423.1,161.6 L429.8,161.3 L436.5,161.9 L443.2,162.3 L449.9,162.6 L456.7,162.8 L463.4,163.3 L470.1,163.0 L476.8,163.3 L483.5,163.6 L490.2,163.7 L497.0,164.0 L503.7,164.3 L510.4,165.0 L517.1,165.9 L523.8,167.1 L530.5,167.9 L537.2,168.7 L544.0,169.4 L550.7,169.5 L557.4,169.0 L564.1,168.5 L570.8,167.8 L577.5,167.0 L584.3,165.9 L591.0,164.9 L597.7,164.1 L604.4,161.6 L611.1,158.8 L617.8,156.1 L624.6,153.4 L631.3,150.5 L638.0,147.9 L644.7,147.5 L651.4,147.3 L658.1,147.2 L664.8,147.0 L671.6,146.5 L678.3,146.3 L685.0,145.9 L691.7,145.7 L698.4,145.5 L705.1,145.5 L711.9,145.7 L718.6,145.7 L725.3,145.5 L732.0,146.1 L738.7,147.1 L745.4,148.2 L752.1,149.8 L758.9,151.2 L765.6,152.4 L772.3,154.7 L779.0,156.8 L785.7,158.9 L792.4,161.1 L799.2,163.9 L805.9,166.6 L812.6,169.9 L819.3,173.6 L826.0,177.3 L832.7,181.3 L839.5,184.7 L846.2,187.9 L852.9,188.8 L859.6,189.2 L866.3,189.8 L873.0,190.1 L879.7,190.5 L886.5,191.0 L893.2,191.5 L899.9,193.2 L906.6,194.4 L913.3,195.2 L920.0,196.5 L926.8,197.2 L933.5,198.0 L940.2,199.4 L946.9,201.0 L953.6,202.7 L960.3,204.2 L967.0,205.8 L973.8,206.9 L980.5,208.6 L987.2,210.1 L993.9,211.6 L1000.6,213.8 L1007.3,215.8 L1014.1,218.0 L1020.8,218.9 L1027.5,220.1 L1034.2,221.1 L1040.9,222.3 L1047.6,223.4 L1054.3,224.0 L1061.1,223.8 L1067.8,223.7 L1074.5,223.5 L1081.2,223.1 L1087.9,223.0 L1094.6,223.2 L1101.4,223.8 L1108.1,225.3 L1114.8,226.4 L1121.5,227.4 L1128.2,228.8 L1134.9,230.0 L1141.7,230.8 L1148.4,231.5 L1155.1,232.4 L1161.8,232.9 L1168.5,233.5 L1175.2,234.1" fill="none" stroke="#6a35b5" stroke-width="2" stroke-linejoin="round"/>
<path d="M0.0,46.9 L6.7,52.8 L13.4,58.7 L20.1,66.0 L26.9,72.9 L33.6,79.6 L40.3,86.0 L47.0,90.7 L53.7,97.0 L60.4,102.9 L67.2,108.2 L73.9,112.8 L80.6,117.3 L87.3,121.2 L94.0,125.0 L100.7,127.8 L107.4,129.8 L114.2,132.6 L120.9,135.5 L127.6,138.7 L134.3,141.0 L141.0,144.0 L147.7,148.8 L154.5,154.2 L161.2,159.6 L167.9,165.2 L174.6,170.7 L181.3,175.3 L188.0,179.7 L194.8,184.7 L201.5,189.6 L208.2,192.3 L214.9,194.4 L221.6,195.7 L228.3,197.6 L235.0,199.8 L241.8,202.3 L248.5,205.6 L255.2,209.1 L261.9,213.1 L268.6,216.8 L275.3,220.5 L282.1,223.8 L288.8,227.0 L295.5,231.4 L302.2,235.8 L308.9,238.0 L315.6,239.4 L322.3,240.5 L329.1,240.6 L335.8,240.2 L342.5,239.4 L349.2,237.5 L355.9,235.0 L362.6,232.5 L369.4,230.1 L376.1,226.9 L382.8,224.0 L389.5,221.7 L396.2,220.0 L402.9,218.4 L409.7,216.6 L416.4,215.1 L423.1,212.9 L429.8,210.4 L436.5,209.8 L443.2,208.5 L449.9,207.3 L456.7,206.0 L463.4,205.3 L470.1,203.1 L476.8,202.0 L483.5,201.2 L490.2,200.0 L497.0,199.1 L503.7,198.2 L510.4,198.3 L517.1,198.8 L523.8,199.9 L530.5,200.2 L537.2,200.6 L544.0,200.6 L550.7,199.6 L557.4,197.4 L564.1,195.3 L570.8,192.9 L577.5,190.4 L584.3,187.3 L591.0,184.4 L597.7,182.1 L604.4,176.3 L611.1,170.2 L617.8,164.4 L624.6,158.9 L631.3,152.9 L638.0,147.7 L644.7,146.9 L651.4,146.4 L658.1,146.4 L664.8,146.0 L671.6,144.9 L678.3,144.7 L685.0,144.0 L691.7,143.6 L698.4,143.3 L705.1,143.3 L711.9,143.8 L718.6,143.9 L725.3,143.7 L732.0,145.0 L738.7,146.9 L745.4,149.0 L752.1,152.3 L758.9,154.8 L765.6,157.1 L772.3,161.4 L779.0,165.4 L785.7,169.2 L792.4,173.2 L799.2,178.2 L805.9,183.0 L812.6,188.9 L819.3,195.6 L826.0,201.9 L832.7,208.9 L839.5,214.6 L846.2,219.7 L852.9,220.3 L859.6,219.9 L866.3,219.8 L873.0,219.3 L879.7,218.9 L886.5,218.7 L893.2,218.7 L899.9,220.9 L906.6,222.2 L913.3,222.8 L920.0,224.2 L926.8,224.6 L933.5,225.0 L940.2,226.8 L946.9,228.9 L953.6,231.1 L960.3,233.0 L967.0,235.0 L973.8,236.0 L980.5,238.3 L987.2,240.1 L993.9,242.0 L1000.6,245.0 L1007.3,247.8 L1014.1,251.0 L1020.8,251.4 L1027.5,252.4 L1034.2,253.3 L1040.9,254.3 L1047.6,255.2 L1054.3,255.1 L1061.1,253.6 L1067.8,252.2 L1074.5,250.6 L1081.2,248.9 L1087.9,247.6 L1094.6,247.0 L1101.4,247.4 L1108.1,249.4 L1114.8,250.7 L1121.5,251.6 L1128.2,253.5 L1134.9,254.8 L1141.7,255.5 L1148.4,255.9 L1155.1,256.8 L1161.8,256.8 L1168.5,257.0 L1175.2,257.2" fill="none" stroke="#e6195f" stroke-width="2" stroke-linejoin="round"/>
<line x1="0" x2="1210" y1="36.8" y2="36.8" stroke="#073a9b" stroke-width="2" stroke-dasharray="5 5"/>
<line x1="0" x2="1210" y1="127.8" y2="127.8" stroke="#073a9b" stroke-width="2" stroke-dasharray="5 5"/>
<line x1="0" x2="1210" y1="202.7" y2="202.7" stroke="#073a9b" stroke-width="2" stroke-dasharray="5 5"/>
<line x1="0" x2="1210" y1="236.8" y2="236.8" stroke="#073a9b" stroke-width="2" stroke-dasharray="5 5"/>
<line x1="0" x2="1210" y1="307.9" y2="307.9" stroke="#073a9b" stroke-width="2" stroke-dasharray="5 5"/>
<line x1="0" x2="1210" y1="346.8" y2="346.8" stroke="#073a9b" stroke-width="2" stroke-dasharray="5 5"/>
<line x1="0" x2="1210" y1="379.8" y2="379.8" stroke="#073a9b" stroke-width="2" stroke-dasharray="5 5"/>
</g>
<rect x="5" y="5" width="79" height="20.7" fill="rgba(0,0,0,0.6)"/>
<rect x="5" y="5" width="2" height="20.7" fill="#2e8a75"/>
<g filter="url(#n)"><text class="lb" x="16.2" y="19.7">USD/CAD</text></g>
<rect x="5" y="32" width="84" height="20.7" fill="rgba(0,0,0,0.6)"/>
<rect x="5" y="32" width="2" height="20.7" fill="#e6195f"/>
<g filter="url(#n)"><text class="lb" x="16.2" y="46.0">EMA (50,0)</text></g>
<rect x="5" y="59" width="90" height="20.7" fill="rgba(0,0,0,0.6)"/>
<rect x="5" y="59" width="2" height="20.7" fill="#6a35b5"/>
<g filter="url(#n)"><text class="lb" x="16.2" y="73.0">EMA (100,0)</text></g>
<g clip-path="url(#cp1)">
<rect x="0" y="422.0" width="1175.7" height="19.5" fill="rgba(0,255,0,0.5)"/>
<rect x="0" y="468.3" width="1175.7" height="20.399999999999977" fill="rgba(255,0,0,0.5)"/>
<path d="M0.4,422.0 V441.5 M1175.7,441.5 V422.0" fill="none" stroke="#0a1f0a" stroke-width="1"/>
<path d="M0.26,441.5 H1175.7" fill="none" stroke="#052005" stroke-width="1.1" stroke-dasharray="6.2 0.5156"/>
<path d="M0.4,488.7 V468.3 M1175.7,468.3 V488.7" fill="none" stroke="#1f0a0a" stroke-width="1"/>
<path d="M0.26,468.4 H1175.7" fill="none" stroke="#200505" stroke-width="1.1" stroke-dasharray="6.2 0.5156"/>
<path d="M0.0,465.4 L6.7,465.4 L13.4,466.0 L20.1,469.1 L26.9,468.2 L33.6,468.4 L40.3,468.2 L47.0,462.2 L53.7,466.2 L60.4,465.5 L67.2,463.6 L73.9,462.2 L80.6,462.2 L87.3,460.2 L94.0,460.5 L100.7,456.9 L107.4,454.0 L114.2,457.6 L120.9,458.2 L127.6,459.5 L134.3,456.0 L141.0,459.0 L147.7,464.4 L154.5,466.4 L161.2,466.8 L167.9,467.6 L174.6,467.9 L181.3,464.6 L188.0,464.4 L194.8,466.5 L201.5,466.9 L208.2,457.4 L214.9,455.4 L221.6,452.8 L228.3,455.0 L235.0,456.8 L241.8,457.9 L248.5,461.1 L255.2,462.1 L261.9,463.8 L268.6,463.7 L275.3,463.9 L282.1,462.5 L288.8,462.6 L295.5,467.1 L302.2,467.5 L308.9,457.1 L315.6,454.0 L322.3,453.2 L329.1,449.9 L335.8,448.0 L342.5,446.6 L349.2,443.7 L355.9,442.0 L362.6,441.6 L369.4,441.6 L376.1,439.6 L382.8,440.0 L389.5,443.7 L396.2,446.4 L402.9,446.7 L409.7,445.8 L416.4,447.2 L423.1,444.3 L429.8,442.8 L436.5,453.1 L443.2,450.7 L449.9,450.4 L456.7,450.0 L463.4,452.7 L470.1,447.1 L476.8,451.9 L483.5,453.0 L490.2,451.3 L497.0,452.5 L503.7,452.7 L510.4,456.7 L517.1,458.6 L523.8,461.2 L530.5,457.7 L537.2,457.4 L544.0,456.0 L550.7,451.3 L557.4,446.7 L564.1,447.0 L570.8,445.5 L577.5,444.8 L584.3,442.9 L591.0,442.9 L597.7,446.3 L604.4,437.4 L611.1,436.4 L617.8,436.6 L624.6,437.1 L631.3,435.8 L638.0,439.0 L644.7,456.3 L651.4,457.3 L658.1,458.3 L664.8,457.2 L671.6,454.8 L678.3,457.3 L685.0,455.8 L691.7,456.6 L698.4,457.0 L705.1,457.8 L711.9,459.8 L718.6,457.9 L725.3,456.5 L732.0,461.8 L738.7,463.8 L745.4,464.7 L752.1,467.7 L758.9,464.8 L765.6,464.3 L772.3,469.2 L779.0,468.4 L785.7,468.3 L792.4,469.1 L799.2,471.5 L805.9,471.6 L812.6,474.1 L819.3,475.5 L826.0,475.0 L832.7,476.4 L839.5,470.4 L846.2,468.5 L852.9,452.9 L859.6,450.4 L866.3,451.4 L873.0,450.2 L879.7,450.9 L886.5,451.3 L893.2,451.8 L899.9,459.1 L906.6,456.2 L913.3,454.5 L920.0,456.8 L926.8,453.9 L933.5,454.0 L940.2,458.2 L946.9,459.4 L953.6,459.8 L960.3,458.9 L967.0,459.6 L973.8,455.8 L980.5,460.0 L987.2,458.6 L993.9,459.2 L1000.6,462.7 L1007.3,462.3 L1014.1,463.5 L1020.8,453.6 L1027.5,455.5 L1034.2,455.3 L1040.9,456.0 L1047.6,455.5 L1054.3,452.1 L1061.1,447.7 L1067.8,448.0 L1074.5,447.1 L1081.2,446.7 L1087.9,448.4 L1094.6,451.7 L1101.4,455.5 L1108.1,461.3 L1114.8,458.3 L1121.5,457.2 L1128.2,460.6 L1134.9,458.6 L1141.7,456.1 L1148.4,455.3 L1155.1,456.9 L1161.8,453.8 L1168.5,454.5 L1175.2,454.7" fill="none" stroke="#2a4df5" stroke-width="1.3" stroke-linejoin="round"/>
</g>
<rect x="5" y="425.3" width="110" height="20.7" fill="rgba(0,0,0,0.6)"/>
<rect x="5" y="425.3" width="2" height="20.7" fill="#00e000"/>
<g filter="url(#n)"><text class="lb" x="16.2" y="439.5">RSI (14,70,30,1)</text></g>
<g clip-path="url(#cp2)">
<path d="M0.0,555.2 L6.7,556.1 L13.4,556.9 L20.1,559.4 L26.9,560.8 L33.6,561.6 L40.3,561.8 L47.0,559.8 L53.7,560.2 L60.4,559.9 L67.2,558.8 L73.9,557.1 L80.6,555.5 L87.3,553.3 L94.0,551.5 L100.7,548.7 L107.4,545.3 L114.2,543.7 L120.9,542.6 L127.6,542.1 L134.3,540.4 L141.0,540.1 L147.7,542.3 L154.5,544.9 L161.2,547.0 L167.9,549.0 L174.6,550.5 L181.3,550.5 L188.0,550.3 L194.8,550.9 L201.5,551.3 L208.2,548.7 L214.9,545.8 L221.6,542.4 L228.3,540.4 L235.0,539.3 L241.8,538.7 L248.5,539.4 L255.2,540.3 L261.9,541.6 L268.6,542.4 L275.3,543.0 L282.1,543.0 L288.8,542.9 L295.5,544.4 L302.2,545.6 L308.9,543.8 L315.6,541.1 L322.3,538.7 L329.1,535.5 L335.8,532.2 L342.5,529.0 L349.2,525.1 L355.9,521.1 L362.6,518.0 L369.4,515.7 L376.1,512.9 L382.8,511.1 L389.5,510.6 L396.2,511.0 L402.9,511.6 L409.7,512.0 L416.4,512.7 L423.1,512.6 L429.8,512.0 L436.5,514.2 L443.2,515.2 L449.9,516.1 L456.7,516.9 L463.4,518.2 L470.1,517.6 L476.8,518.4 L483.5,519.6 L490.2,520.0 L497.0,520.8 L503.7,521.6 L510.4,523.3 L517.1,525.4 L523.8,527.9 L530.5,529.0 L537.2,529.8 L544.0,530.1 L550.7,528.9 L557.4,526.4 L564.1,524.5 L570.8,522.5 L577.5,520.8 L584.3,518.7 L591.0,517.2 L597.7,516.8 L604.4,512.1 L611.1,507.8 L617.8,504.7 L624.6,502.7 L631.3,500.5 L638.0,499.8 L644.7,505.1 L651.4,510.0 L658.1,514.6 L664.8,517.9 L671.6,519.7 L678.3,522.2 L685.0,523.7 L691.7,525.3 L698.4,526.7 L705.1,528.2 L711.9,530.1 L718.6,531.0 L725.3,531.3 L732.0,533.5 L738.7,536.0 L745.4,538.4 L752.1,541.6 L758.9,543.3 L765.6,544.3 L772.3,547.7 L779.0,549.9 L785.7,551.3 L792.4,552.7 L799.2,554.9 L805.9,556.5 L812.6,559.2 L819.3,562.1 L826.0,564.0 L832.7,566.3 L839.5,566.3 L846.2,565.4 L852.9,558.7 L859.6,551.7 L866.3,546.5 L873.0,541.5 L879.7,537.8 L886.5,534.9 L893.2,532.8 L899.9,534.1 L906.6,533.9 L913.3,533.0 L920.0,533.2 L926.8,532.1 L933.5,531.3 L940.2,532.4 L946.9,533.8 L953.6,535.0 L960.3,535.6 L967.0,536.3 L973.8,535.6 L980.5,536.6 L987.2,536.9 L993.9,537.2 L1000.6,539.0 L1007.3,540.1 L1014.1,541.5 L1020.8,539.0 L1027.5,537.7 L1034.2,536.5 L1040.9,535.8 L1047.6,535.0 L1054.3,533.0 L1061.1,529.6 L1067.8,527.0 L1074.5,524.6 L1081.2,522.6 L1087.9,521.5 L1094.6,521.7 L1101.4,523.1 L1108.1,526.5 L1114.8,528.3 L1121.5,529.3 L1128.2,531.4 L1134.9,532.5 L1141.7,532.4 L1148.4,532.1 L1155.1,532.4 L1161.8,531.5 L1168.5,531.0 L1175.2,530.7" fill="none" stroke="#2a4df5" stroke-width="1.1" stroke-linejoin="round"/>
<path d="M0.0,548.3 L6.7,549.9 L13.4,551.3 L20.1,552.9 L26.9,554.5 L33.6,555.9 L40.3,557.1 L47.0,557.6 L53.7,558.1 L60.4,558.5 L67.2,558.6 L73.9,558.3 L80.6,557.7 L87.3,556.8 L94.0,555.8 L100.7,554.3 L107.4,552.5 L114.2,550.8 L120.9,549.1 L127.6,547.7 L134.3,546.3 L141.0,545.0 L147.7,544.5 L154.5,544.6 L161.2,545.1 L167.9,545.8 L174.6,546.8 L181.3,547.5 L188.0,548.1 L194.8,548.6 L201.5,549.2 L208.2,549.1 L214.9,548.4 L221.6,547.2 L228.3,545.8 L235.0,544.5 L241.8,543.4 L248.5,542.6 L255.2,542.1 L261.9,542.0 L268.6,542.1 L275.3,542.3 L282.1,542.4 L288.8,542.5 L295.5,542.9 L302.2,543.4 L308.9,543.5 L315.6,543.0 L322.3,542.2 L329.1,540.8 L335.8,539.1 L342.5,537.1 L349.2,534.7 L355.9,532.0 L362.6,529.2 L369.4,526.5 L376.1,523.8 L382.8,521.2 L389.5,519.1 L396.2,517.5 L402.9,516.3 L409.7,515.4 L416.4,514.9 L423.1,514.4 L429.8,513.9 L436.5,514.0 L443.2,514.2 L449.9,514.6 L456.7,515.1 L463.4,515.7 L470.1,516.1 L476.8,516.5 L483.5,517.2 L490.2,517.7 L497.0,518.3 L503.7,519.0 L510.4,519.9 L517.1,521.0 L523.8,522.4 L530.5,523.7 L537.2,524.9 L544.0,525.9 L550.7,526.5 L557.4,526.5 L564.1,526.1 L570.8,525.4 L577.5,524.5 L584.3,523.3 L591.0,522.1 L597.7,521.0 L604.4,519.2 L611.1,517.0 L617.8,514.5 L624.6,512.1 L631.3,509.8 L638.0,507.8 L644.7,507.3 L651.4,507.8 L658.1,509.2 L664.8,510.9 L671.6,512.7 L678.3,514.6 L685.0,516.4 L691.7,518.2 L698.4,519.9 L705.1,521.5 L711.9,523.3 L718.6,524.8 L725.3,526.1 L732.0,527.6 L738.7,529.3 L745.4,531.1 L752.1,533.2 L758.9,535.2 L765.6,537.0 L772.3,539.2 L779.0,541.3 L785.7,543.3 L792.4,545.2 L799.2,547.1 L805.9,549.0 L812.6,551.0 L819.3,553.3 L826.0,555.4 L832.7,557.6 L839.5,559.3 L846.2,560.5 L852.9,560.2 L859.6,558.5 L866.3,556.1 L873.0,553.2 L879.7,550.1 L886.5,547.1 L893.2,544.2 L899.9,542.2 L906.6,540.5 L913.3,539.0 L920.0,537.8 L926.8,536.7 L933.5,535.6 L940.2,535.0 L946.9,534.7 L953.6,534.8 L960.3,535.0 L967.0,535.2 L973.8,535.3 L980.5,535.6 L987.2,535.8 L993.9,536.1 L1000.6,536.7 L1007.3,537.4 L1014.1,538.2 L1020.8,538.3 L1027.5,538.2 L1034.2,537.9 L1040.9,537.4 L1047.6,536.9 L1054.3,536.2 L1061.1,534.8 L1067.8,533.3 L1074.5,531.5 L1081.2,529.7 L1087.9,528.1 L1094.6,526.8 L1101.4,526.1 L1108.1,526.2 L1114.8,526.6 L1121.5,527.1 L1128.2,528.0 L1134.9,528.9 L1141.7,529.6 L1148.4,530.1 L1155.1,530.5 L1161.8,530.7 L1168.5,530.8 L1175.2,530.8" fill="none" stroke="#ff7a1a" stroke-width="1.1" stroke-linejoin="round"/>
<rect x="-2.50" y="529.6" width="5" height="6.87" fill="#ff0000"/>
<rect x="4.22" y="529.6" width="5" height="6.22" fill="#ff0000"/>
<rect x="10.93" y="529.6" width="5" height="5.60" fill="#ff0000"/>
<rect x="17.65" y="529.6" width="5" height="6.50" fill="#ff0000"/>
<rect x="24.36" y="529.6" width="5" height="6.29" fill="#ff0000"/>
<rect x="31.08" y="529.6" width="5" height="5.69" fill="#ff0000"/>
<rect x="37.79" y="529.6" width="5" height="4.72" fill="#ff0000"/>
<rect x="44.51" y="529.6" width="5" height="2.17" fill="#ff0000"/>
<rect x="51.22" y="529.6" width="5" height="2.06" fill="#ff0000"/>
<rect x="57.94" y="529.6" width="5" height="1.45" fill="#ff0000"/>
<rect x="64.66" y="529.6" width="5" height="0.50" fill="#ff0000"/>
<rect x="71.37" y="528.43" width="5" height="1.17" fill="#00f000"/>
<rect x="78.09" y="527.38" width="5" height="2.22" fill="#00f000"/>
<rect x="84.80" y="526.09" width="5" height="3.51" fill="#00f000"/>
<rect x="91.52" y="525.32" width="5" height="4.28" fill="#00f000"/>
<rect x="98.23" y="523.94" width="5" height="5.66" fill="#00f000"/>
<rect x="104.95" y="522.37" width="5" height="7.23" fill="#00f000"/>
<rect x="111.67" y="522.57" width="5" height="7.03" fill="#00f000"/>
<rect x="118.38" y="523.08" width="5" height="6.52" fill="#00f000"/>
<rect x="125.10" y="523.94" width="5" height="5.66" fill="#00f000"/>
<rect x="131.81" y="523.76" width="5" height="5.84" fill="#00f000"/>
<rect x="138.53" y="524.68" width="5" height="4.92" fill="#00f000"/>
<rect x="145.24" y="527.37" width="5" height="2.23" fill="#00f000"/>
<rect x="151.96" y="529.6" width="5" height="0.32" fill="#ff0000"/>
<rect x="158.67" y="529.6" width="5" height="1.98" fill="#ff0000"/>
<rect x="165.39" y="529.6" width="5" height="3.15" fill="#ff0000"/>
<rect x="172.11" y="529.6" width="5" height="3.70" fill="#ff0000"/>
<rect x="178.82" y="529.6" width="5" height="3.02" fill="#ff0000"/>
<rect x="185.54" y="529.6" width="5" height="2.23" fill="#ff0000"/>
<rect x="192.25" y="529.6" width="5" height="2.23" fill="#ff0000"/>
<rect x="198.97" y="529.6" width="5" height="2.09" fill="#ff0000"/>
<rect x="205.68" y="529.22" width="5" height="0.38" fill="#00f000"/>
<rect x="212.40" y="526.99" width="5" height="2.61" fill="#00f000"/>
<rect x="219.11" y="524.79" width="5" height="4.81" fill="#00f000"/>
<rect x="225.83" y="524.12" width="5" height="5.48" fill="#00f000"/>
<rect x="232.55" y="524.34" width="5" height="5.26" fill="#00f000"/>
<rect x="239.26" y="524.95" width="5" height="4.65" fill="#00f000"/>
<rect x="245.98" y="526.42" width="5" height="3.18" fill="#00f000"/>
<rect x="252.69" y="527.75" width="5" height="1.85" fill="#00f000"/>
<rect x="259.41" y="529.16" width="5" height="0.44" fill="#00f000"/>
<rect x="266.12" y="529.6" width="5" height="0.32" fill="#ff0000"/>
<rect x="272.84" y="529.6" width="5" height="0.73" fill="#ff0000"/>
<rect x="279.56" y="529.6" width="5" height="0.58" fill="#ff0000"/>
<rect x="286.27" y="529.6" width="5" height="0.38" fill="#ff0000"/>
<rect x="292.99" y="529.6" width="5" height="1.52" fill="#ff0000"/>
<rect x="299.70" y="529.6" width="5" height="2.16" fill="#ff0000"/>
<rect x="306.42" y="529.6" width="5" height="0.50" fill="#ff0000"/>
<rect x="313.13" y="527.73" width="5" height="1.87" fill="#00f000"/>
<rect x="319.85" y="526.16" width="5" height="3.44" fill="#00f000"/>
<rect x="326.56" y="524.27" width="5" height="5.33" fill="#00f000"/>
<rect x="333.28" y="522.68" width="5" height="6.92" fill="#00f000"/>
<rect x="340.00" y="521.48" width="5" height="8.12" fill="#00f000"/>
<rect x="346.71" y="519.99" width="5" height="9.61" fill="#00f000"/>
<rect x="353.43" y="518.78" width="5" height="10.82" fill="#00f000"/>
<rect x="360.14" y="518.44" width="5" height="11.16" fill="#00f000"/>
<rect x="366.86" y="518.80" width="5" height="10.80" fill="#00f000"/>
<rect x="373.57" y="518.78" width="5" height="10.82" fill="#00f000"/>
<rect x="380.29" y="519.45" width="5" height="10.15" fill="#00f000"/>
<rect x="387.00" y="521.08" width="5" height="8.52" fill="#00f000"/>
<rect x="393.72" y="523.13" width="5" height="6.47" fill="#00f000"/>
<rect x="400.44" y="524.91" width="5" height="4.69" fill="#00f000"/>
<rect x="407.15" y="526.14" width="5" height="3.46" fill="#00f000"/>
<rect x="413.87" y="527.44" width="5" height="2.16" fill="#00f000"/>
<rect x="420.58" y="527.72" width="5" height="1.88" fill="#00f000"/>
<rect x="427.30" y="527.66" width="5" height="1.94" fill="#00f000"/>
<rect x="434.01" y="529.6" width="5" height="0.50" fill="#ff0000"/>
<rect x="440.73" y="529.6" width="5" height="0.98" fill="#ff0000"/>
<rect x="447.45" y="529.6" width="5" height="1.51" fill="#ff0000"/>
<rect x="454.16" y="529.6" width="5" height="1.80" fill="#ff0000"/>
<rect x="460.88" y="529.6" width="5" height="2.53" fill="#ff0000"/>
<rect x="467.59" y="529.6" width="5" height="1.48" fill="#ff0000"/>
<rect x="474.31" y="529.6" width="5" height="1.89" fill="#ff0000"/>
<rect x="481.02" y="529.6" width="5" height="2.42" fill="#ff0000"/>
<rect x="487.74" y="529.6" width="5" height="2.28" fill="#ff0000"/>
<rect x="494.45" y="529.6" width="5" height="2.45" fill="#ff0000"/>
<rect x="501.17" y="529.6" width="5" height="2.58" fill="#ff0000"/>
<rect x="507.89" y="529.6" width="5" height="3.50" fill="#ff0000"/>
<rect x="514.60" y="529.6" width="5" height="4.45" fill="#ff0000"/>
<rect x="521.32" y="529.6" width="5" height="5.56" fill="#ff0000"/>
<rect x="528.03" y="529.6" width="5" height="5.33" fill="#ff0000"/>
<rect x="534.75" y="529.6" width="5" height="4.89" fill="#ff0000"/>
<rect x="541.46" y="529.6" width="5" height="4.13" fill="#ff0000"/>
<rect x="548.18" y="529.6" width="5" height="2.40" fill="#ff0000"/>
<rect x="554.89" y="529.10" width="5" height="0.50" fill="#00f000"/>
<rect x="561.61" y="528.02" width="5" height="1.58" fill="#00f000"/>
<rect x="568.33" y="526.72" width="5" height="2.88" fill="#00f000"/>
<rect x="575.04" y="525.90" width="5" height="3.70" fill="#00f000"/>
<rect x="581.76" y="524.99" width="5" height="4.61" fill="#00f000"/>
<rect x="588.47" y="524.71" width="5" height="4.89" fill="#00f000"/>
<rect x="595.19" y="525.39" width="5" height="4.21" fill="#00f000"/>
<rect x="601.90" y="522.42" width="5" height="7.18" fill="#00f000"/>
<rect x="608.62" y="520.42" width="5" height="9.18" fill="#00f000"/>
<rect x="615.34" y="519.81" width="5" height="9.79" fill="#00f000"/>
<rect x="622.05" y="520.15" width="5" height="9.45" fill="#00f000"/>
<rect x="628.77" y="520.31" width="5" height="9.29" fill="#00f000"/>
<rect x="635.48" y="521.61" width="5" height="7.99" fill="#00f000"/>
<rect x="642.20" y="527.46" width="5" height="2.14" fill="#00f000"/>
<rect x="648.91" y="529.6" width="5" height="2.20" fill="#ff0000"/>
<rect x="655.63" y="529.6" width="5" height="5.39" fill="#ff0000"/>
<rect x="662.34" y="529.6" width="5" height="6.97" fill="#ff0000"/>
<rect x="669.06" y="529.6" width="5" height="7.01" fill="#ff0000"/>
<rect x="675.78" y="529.6" width="5" height="7.63" fill="#ff0000"/>
<rect x="682.49" y="529.6" width="5" height="7.31" fill="#ff0000"/>
<rect x="689.21" y="529.6" width="5" height="7.10" fill="#ff0000"/>
<rect x="695.92" y="529.6" width="5" height="6.82" fill="#ff0000"/>
<rect x="702.64" y="529.6" width="5" height="6.60" fill="#ff0000"/>
<rect x="709.35" y="529.6" width="5" height="6.81" fill="#ff0000"/>
<rect x="716.07" y="529.6" width="5" height="6.19" fill="#ff0000"/>
<rect x="722.78" y="529.6" width="5" height="5.19" fill="#ff0000"/>
<rect x="729.50" y="529.6" width="5" height="5.89" fill="#ff0000"/>
<rect x="736.22" y="529.6" width="5" height="6.76" fill="#ff0000"/>
<rect x="742.93" y="529.6" width="5" height="7.28" fill="#ff0000"/>
<rect x="749.65" y="529.6" width="5" height="8.44" fill="#ff0000"/>
<rect x="756.36" y="529.6" width="5" height="8.10" fill="#ff0000"/>
<rect x="763.08" y="529.6" width="5" height="7.29" fill="#ff0000"/>
<rect x="769.79" y="529.6" width="5" height="8.50" fill="#ff0000"/>
<rect x="776.51" y="529.6" width="5" height="8.55" fill="#ff0000"/>
<rect x="783.23" y="529.6" width="5" height="8.01" fill="#ff0000"/>
<rect x="789.94" y="529.6" width="5" height="7.49" fill="#ff0000"/>
<rect x="796.66" y="529.6" width="5" height="7.82" fill="#ff0000"/>
<rect x="803.37" y="529.6" width="5" height="7.49" fill="#ff0000"/>
<rect x="810.09" y="529.6" width="5" height="8.14" fill="#ff0000"/>
<rect x="816.80" y="529.6" width="5" height="8.87" fill="#ff0000"/>
<rect x="823.52" y="529.6" width="5" height="8.57" fill="#ff0000"/>
<rect x="830.23" y="529.6" width="5" height="8.70" fill="#ff0000"/>
<rect x="836.95" y="529.6" width="5" height="6.98" fill="#ff0000"/>
<rect x="843.67" y="529.6" width="5" height="4.87" fill="#ff0000"/>
<rect x="850.38" y="528.11" width="5" height="1.49" fill="#00f000"/>
<rect x="857.10" y="522.86" width="5" height="6.74" fill="#00f000"/>
<rect x="863.81" y="520.00" width="5" height="9.60" fill="#00f000"/>
<rect x="870.53" y="517.96" width="5" height="11.64" fill="#00f000"/>
<rect x="877.24" y="517.29" width="5" height="12.31" fill="#00f000"/>
<rect x="883.96" y="517.46" width="5" height="12.14" fill="#00f000"/>
<rect x="890.67" y="518.18" width="5" height="11.42" fill="#00f000"/>
<rect x="897.39" y="521.50" width="5" height="8.10" fill="#00f000"/>
<rect x="904.11" y="522.97" width="5" height="6.63" fill="#00f000"/>
<rect x="910.82" y="523.56" width="5" height="6.04" fill="#00f000"/>
<rect x="917.54" y="524.96" width="5" height="4.64" fill="#00f000"/>
<rect x="924.25" y="525.01" width="5" height="4.59" fill="#00f000"/>
<rect x="930.97" y="525.25" width="5" height="4.35" fill="#00f000"/>
<rect x="937.68" y="527.02" width="5" height="2.58" fill="#00f000"/>
<rect x="944.40" y="528.66" width="5" height="0.94" fill="#00f000"/>
<rect x="951.12" y="529.6" width="5" height="0.50" fill="#ff0000"/>
<rect x="957.83" y="529.6" width="5" height="0.67" fill="#ff0000"/>
<rect x="964.55" y="529.6" width="5" height="1.10" fill="#ff0000"/>
<rect x="971.26" y="529.6" width="5" height="0.50" fill="#ff0000"/>
<rect x="977.98" y="529.6" width="5" height="1.04" fill="#ff0000"/>
<rect x="984.69" y="529.6" width="5" height="1.03" fill="#ff0000"/>
<rect x="991.41" y="529.6" width="5" height="1.12" fill="#ff0000"/>
<rect x="998.12" y="529.6" width="5" height="2.30" fill="#ff0000"/>
<rect x="1004.84" y="529.6" width="5" height="2.76" fill="#ff0000"/>
<rect x="1011.56" y="529.6" width="5" height="3.27" fill="#ff0000"/>
<rect x="1018.27" y="529.6" width="5" height="0.64" fill="#ff0000"/>
<rect x="1024.99" y="529.08" width="5" height="0.52" fill="#00f000"/>
<rect x="1031.70" y="528.23" width="5" height="1.37" fill="#00f000"/>
<rect x="1038.42" y="527.92" width="5" height="1.68" fill="#00f000"/>
<rect x="1045.13" y="527.61" width="5" height="1.99" fill="#00f000"/>
<rect x="1051.85" y="526.46" width="5" height="3.14" fill="#00f000"/>
<rect x="1058.56" y="524.34" width="5" height="5.26" fill="#00f000"/>
<rect x="1065.28" y="523.32" width="5" height="6.28" fill="#00f000"/>
<rect x="1072.00" y="522.63" width="5" height="6.97" fill="#00f000"/>
<rect x="1078.71" y="522.42" width="5" height="7.18" fill="#00f000"/>
<rect x="1085.43" y="523.02" width="5" height="6.58" fill="#00f000"/>
<rect x="1092.14" y="524.47" width="5" height="5.13" fill="#00f000"/>
<rect x="1098.86" y="526.60" width="5" height="3.00" fill="#00f000"/>
<rect x="1105.57" y="529.6" width="5" height="0.35" fill="#ff0000"/>
<rect x="1112.29" y="529.6" width="5" height="1.68" fill="#ff0000"/>
<rect x="1119.01" y="529.6" width="5" height="2.17" fill="#ff0000"/>
<rect x="1125.72" y="529.6" width="5" height="3.46" fill="#ff0000"/>
<rect x="1132.44" y="529.6" width="5" height="3.61" fill="#ff0000"/>
<rect x="1139.15" y="529.6" width="5" height="2.85" fill="#ff0000"/>
<rect x="1145.87" y="529.6" width="5" height="2.02" fill="#ff0000"/>
<rect x="1152.58" y="529.6" width="5" height="1.80" fill="#ff0000"/>
<rect x="1159.30" y="529.6" width="5" height="0.77" fill="#ff0000"/>
<rect x="1166.01" y="529.6" width="5" height="0.50" fill="#ff0000"/>
<rect x="1172.73" y="529.10" width="5" height="0.50" fill="#00f000"/>
</g>
<rect x="5" y="503" width="109" height="20.7" fill="rgba(0,0,0,0.6)"/>
<rect x="5" y="503" width="2" height="20.7" fill="#0000ff"/>
<g filter="url(#n)"><text class="lb" x="16.2" y="517.0">MACD (12,26,9)</text></g>
<line x1="594" x2="614" y1="414.35" y2="414.35" stroke="#6b6362" stroke-width="1"/>
<line x1="594" x2="614" y1="416.40" y2="416.40" stroke="#6b6362" stroke-width="1"/>
<line x1="594" x2="614" y1="418.45" y2="418.45" stroke="#6b6362" stroke-width="1"/>
<line x1="594" x2="614" y1="492.15" y2="492.15" stroke="#6b6362" stroke-width="1"/>
<line x1="594" x2="614" y1="494.20" y2="494.20" stroke="#6b6362" stroke-width="1"/>
<line x1="594" x2="614" y1="496.25" y2="496.25" stroke="#6b6362" stroke-width="1"/>
<text class="ax" x="1216.6" y="33.4">1.3360</text>
<text class="ax" x="1216.6" y="59.9">1.3340</text>
<text class="ax" x="1216.6" y="86.4">1.3320</text>
<text class="ax" x="1216.6" y="112.9">1.3300</text>
<text class="ax" x="1216.6" y="139.4">1.3280</text>
<text class="ax" x="1216.6" y="165.9">1.3260</text>
<text class="ax" x="1216.6" y="192.4">1.3240</text>
<text class="ax" x="1216.6" y="218.9">1.3220</text>
<text class="ax" x="1216.6" y="245.4">1.3200</text>
<text class="ax" x="1216.6" y="298.4">1.3160</text>
<text class="ax" x="1216.6" y="324.9">1.3140</text>
<text class="ax" x="1216.6" y="351.4">1.3120</text>
<text class="ax" x="1216.6" y="377.9">1.3100</text>
<text class="ax" x="1216.6" y="404.4">1.3080</text>
<text class="ax" x="1216.6" y="458.9">50.0000</text>
<text class="ax" x="1216.6" y="492.0">0.0000</text>
<text class="ax" x="1216.6" y="534.3">0.0000</text>
<path d="M1211.7,263 L1219.2,255 H1260 V270.8 H1219.2 Z" fill="#2f4d7a"/>
<g filter="url(#n)"><text x="1217.2" y="268" font-family="Liberation Sans,Arial,sans-serif" font-weight="bold" font-size="10.8" fill="#fff">1.31833</text></g>
<text class="ax" x="47.5" y="584.2" text-anchor="middle">19</text>
<text class="ax" x="167.5" y="584.2" text-anchor="middle">22</text>
<text class="ax" x="255.5" y="584.2" text-anchor="middle">26</text>
<text class="ax" x="376.5" y="584.2" text-anchor="middle">29</text>
<text class="ax" x="454.1" y="584.2" text-anchor="middle" style="font-weight:bold;fill:#555">Jul</text>
<text class="ax" x="584.5" y="584.2" text-anchor="middle">6</text>
<text class="ax" x="671.5" y="584.2" text-anchor="middle">10</text>
<text class="ax" x="792.5" y="584.2" text-anchor="middle">13</text>
<text class="ax" x="879.5" y="584.2" text-anchor="middle">17</text>
<text class="ax" x="1000.5" y="584.2" text-anchor="middle">20</text>
<text class="ax" x="1088.5" y="584.2" text-anchor="middle">24</text>
<text class="ax" x="1168.5" y="584.2" text-anchor="middle">26</text>
</g></svg></body></html>
